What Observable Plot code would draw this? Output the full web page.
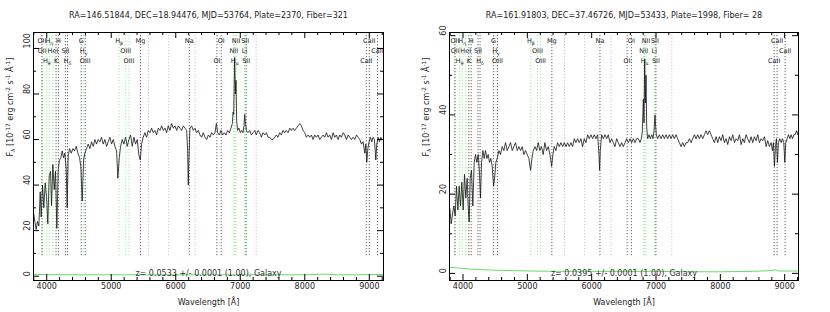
<!DOCTYPE html>
<html><head><meta charset="utf-8">
<script src="https://cdn.jsdelivr.net/npm/d3@7"></script>
<script src="https://cdn.jsdelivr.net/npm/@observablehq/plot@0.6"></script>
<style>
body{margin:0;background:#fff}
#wrap{position:relative;width:830px;height:312px;overflow:hidden}
.panel{position:absolute;top:0}
</style>
</head><body><div id="wrap"></div>
<script>
// ---------- data ----------
const titles = [
  "RA=146.51844, DEC=18.94476, MJD=53764, Plate=2370, Fiber=321",
  "RA=161.91803, DEC=37.46726, MJD=53433, Plate=1998, Fiber= 28"
];
const zLabels = [
  "z= 0.0533 +/- 0.0001 (1.00), Galaxy",
  "z= 0.0395 +/- 0.0001 (1.00), Galaxy"
];
const redshifts = [0.0533, 0.0395];
const xLabel = "Wavelength [Å]";
const yLabel = "F_{λ} [10^{-17} erg cm^{-2} s^{-1} Å^{-1}]";
const xTicks = [4000, 5000, 6000, 7000, 8000, 9000];
const leftYTicks = [0, 20, 40, 60, 80, 100];
const rightYTicks = [0, 20, 40, 60];

const leftWave = [
3795,3816,3836,3857,3878,3899,3914,3935,3955,3976,
3997,4017,4038,4059,4074,4095,4116,4136,4157,4178,
4198,4219,4240,4260,4281,4302,4317,4333,4354,4380,
4405,4431,4457,4483,4509,4529,4550,4571,4591,4617,
4643,4669,4695,4721,4747,4772,4798,4824,4850,4876,
4902,4928,4953,4979,5005,5031,5057,5083,5103,5124,
5145,5171,5196,5222,5248,5274,5300,5326,5352,5377,
5403,5429,5450,5470,5496,5522,5548,5574,5600,5626,
5651,5677,5703,5729,5755,5781,5807,5833,5858,5884,
5910,5936,5962,5988,6014,6039,6065,6091,6117,6143,
6169,6184,6194,6205,6220,6246,6272,6298,6324,6350,
6375,6401,6427,6453,6479,6505,6531,6556,6582,6608,
6629,6650,6675,6701,6727,6753,6779,6805,6831,6856,
6877,6888,6898,6913,6924,6934,6944,6960,6980,7001,
7022,7042,7058,7068,7079,7094,7120,7146,7172,7198,
7224,7249,7275,7301,7327,7353,7379,7405,7430,7456,
7482,7508,7534,7560,7585,7611,7637,7663,7689,7715,
7741,7767,7792,7818,7844,7870,7896,7922,7948,7973,
7999,8025,8051,8077,8103,8128,8154,8180,8206,8232,
8258,8284,8309,8335,8361,8387,8413,8439,8465,8490,
8516,8542,8568,8594,8620,8646,8672,8697,8723,8749,
8775,8801,8827,8852,8878,8904,8930,8946,8961,8977,
8997,9018,9039,9059,9080,9101,9116,9137,9158,9178,
9199,9214];
const leftFlux = [
28,24,20.5,24,22,37,26,40,30,41,
35,23,44,46,31,49,38,46,21,47,
51,52,55,52,54,47,30,53,56,54,
56,55,57,54,52,48,33,51,54,56,
58,56,59,57,60,58,60,59,61,58,
60,57,59,61,58,60,57,55,43,52,
57,60,58,61,57,60,62,57,61,58,
60,53,51,58,61,63,61,64,63,65,
63,64,62,65,64,66,64,65,63,66,
64,67,65,66,64,66,65,64,66,65,
64,55,40,52,65,66,64,65,63,64,
62,61,63,61,60,62,61,63,62,63,
67,63,62,64,62,63,62,64,63,65,
67,72,71,96,80,86,68,64,65,63,
64,63,66,71,68,64,63,64,62,63,
64,62,64,63,61,63,62,63,61,61,
60,60,61,62,61,63,62,64,63,64,
63,65,64,65,64,65,66,67,66,64,
63,61,62,61,62,60,62,61,62,60,
61,62,61,63,61,62,60,63,61,62,
60,62,61,63,62,60,62,61,60,61,
60,62,61,60,58,59,54,58,50,56,
59,61,59,61,60,51,58,61,59,61,
60,60];
const leftErrWave = [3795,4000,4500,5000,5500,6000,6500,7000,7500,8000,8300,8500,8800,9000,9214];
const leftErr     = [0.8,0.7,0.6,0.6,0.6,0.6,0.6,0.6,0.6,0.6,0.9,0.6,0.6,0.7,0.7];

const rightWave = [
3795,3816,3837,3857,3878,3899,3920,3940,3961,3982,
4003,4023,4044,4065,4080,4096,4112,4132,4153,4174,
4194,4215,4236,4257,4272,4288,4309,4329,4350,4371,
4392,4412,4433,4454,4475,4490,4511,4532,4558,4583,
4609,4635,4661,4687,4713,4739,4765,4791,4817,4843,
4869,4895,4920,4946,4972,4998,5024,5050,5071,5092,
5118,5144,5169,5195,5221,5247,5273,5299,5325,5351,
5377,5398,5418,5444,5470,5496,5522,5548,5574,5600,
5626,5652,5678,5704,5730,5755,5781,5807,5833,5859,
5885,5911,5937,5963,5989,6015,6041,6067,6093,6113,
6124,6134,6155,6181,6207,6233,6258,6284,6310,6336,
6362,6388,6414,6440,6466,6492,6518,6544,6570,6596,
6622,6648,6673,6699,6725,6751,6772,6788,6803,6814,
6824,6834,6845,6855,6870,6891,6912,6933,6953,6969,
6985,6995,7005,7026,7052,7078,7104,7130,7156,7182,
7208,7234,7259,7285,7311,7337,7363,7389,7415,7441,
7467,7493,7519,7545,7570,7597,7622,7648,7674,7700,
7726,7752,7778,7804,7830,7856,7882,7908,7934,7960,
7985,8011,8037,8063,8089,8115,8141,8167,8193,8219,
8245,8271,8297,8323,8349,8374,8400,8426,8452,8478,
8504,8530,8556,8582,8608,8634,8659,8686,8712,8737,
8763,8789,8810,8825,8841,8857,8872,8888,8903,8924,
8945,8966,8986,9002,9017,9038,9059,9080,9100,9121,
9142,9163,9183,9204,9214];
const rightFlux = [
16.5,12.5,15,17,14.5,22,16,22,17,23,
16,25,19,24,17,13,24,26,17,28,
30,28,30,25,19,28,31,29,31,29,
30,28,29,27,22,24,28,29,31,30,
32,31,33,31,32,33,31,32,33,31,
32,31,32,30,31,30,29,26,29,31,
32,31,33,31,32,30,33,31,32,30,
27,30,32,31,33,32,33,32,33,32,
33,32,33,32,34,33,34,33,34,32,
34,33,35,34,35,34,35,34,35,30,
26,31,35,34,35,34,35,33,34,33,
32,34,33,32,33,32,33,34,33,34,
33,34,33,34,34,33,34,36,44,38,
54,43,50,37,34,35,34,35,34,36,
40,37,35,34,35,34,35,34,35,34,
35,34,35,34,35,34,33,32,33,32,
33,33,34,33,34,35,34,35,34,35,
34,35,36,35,36,35,34,33,34.5,33,
34.5,33.5,35,33,34,32.5,34.5,33.5,35,33,
34,33.5,35,32.5,34,33,35,34,33,34.5,
33,34.5,33.5,35,33,34,33.5,34.5,32,33.5,
32,33,31,33,27,32,34,28,33,34,
33,34,33,28,33,34,35,34,35,34,
35,35,36,35,36];
const rightErrWave = [3795,3900,4000,4200,4500,5000,5500,6000,6500,7000,7500,8000,8500,8800,8850,8900,9000,9214];
const rightErr     = [1.5,1.4,1.2,1.0,0.8,0.6,0.5,0.5,0.5,0.5,0.4,0.4,0.5,0.7,0.9,0.6,0.6,0.6];

// spectral line list: rest wavelength, label, label row, kind (e = green, a = black)
const lineNames = ["OII","H_{η}","H","G","H_{β}","Mg","Na","OI","NII","SII","CaII",
                   "OII","HeI","SII","H_{γ}","OIII","NII","Li","CaII",
                   "H_{θ}","K","H_{δ}","OIII","OIII","OI","H_{α}","SII","CaII"];
const lineRest  = [3727.1,3836.5,3969.6,4305.6,4862.7,5176.7,5895.6,6365.5,6585.3,6718.3,8544.4,
                   3729.9,3889.0,4072.3,4341.7,4960.3,6549.9,6707.9,8664.5,
                   3798.0,3934.8,4102.9,4364.4,5008.2,6302.0,6564.6,6732.7,8500.4];
const lineRow   = [1,1,1,1,1,1,1,1,1,1,1, 2,2,2,2,2,2,2,2, 3,3,3,3,3,3,3,3,3];
const lineKind  = ["a","e","a","a","e","a","a","a","e","e","a",
                   "e","e","a","e","e","e","e","a",
                   "e","a","a","a","e","a","e","a","a"];
const skyLines = [5577, 5890, 6300, 7246];

// ---------- drawing ----------
const FONT = "DejaVu Sans";
const GREEN = "#8fe28f", GREEN_ERR = "#66dd66", PINK = "#d9a6d9", DOTBLACK = "#444";

function panel({wave, flux, errWave, err, z, xDomain, yDomain, yTicks, title, zLabel, marginLeft}) {
  const W = 415, H = 312, mt = 32, mb = 32, mr = 32;
  const fw = W - marginLeft - mr, fh = H - mt - mb;
  const spec = wave.map((w, i) => ({w, f: flux[i]}));
  const errs = errWave.map((w, i) => ({w, f: err[i]}));
  const lines = lineNames.map((n, i) => ({name: n, obs: lineRest[i] * (1 + z), row: lineRow[i], kind: lineKind[i]}));
  const [ya, yb] = yDomain;
  const yl = ya + 0.1 * (yb - ya);
  const xMinor = d3.range(3800, 9300, 200).filter(v => v % 1000 !== 0 && v > xDomain[0] && v < xDomain[1]);
  const yMinor = d3.range(10, yb, 20);
  const dot = {strokeDasharray: "1,2", strokeWidth: 1};
  const rowText = r => Plot.text(lines.filter(d => d.row === r), {x: "obs", text: "name", frameAnchor: "top", dy: 6 + 10 * (r - 1), fill: "#222", fontSize: 6.5});
  return Plot.plot({
    width: W, height: H, marginLeft, marginRight: mr, marginTop: mt, marginBottom: mb,
    x: {domain: xDomain, axis: null},
    y: {domain: yDomain, axis: null},
    style: {fontFamily: FONT, fontSize: "8px", background: "white", color: "#000", overflow: "visible"},
    marks: [
      Plot.ruleX(skyLines, {x: d => d, y1: yl, y2: yb, stroke: PINK, ...dot}),
      Plot.ruleX(lines.filter(d => d.kind === "e"), {x: "obs", y1: yl, y2: yb, stroke: GREEN, ...dot}),
      Plot.ruleX(lines.filter(d => d.kind === "a"), {x: "obs", y1: yl, y2: yb, stroke: DOTBLACK, ...dot}),
      Plot.line(errs, {x: "w", y: "f", stroke: GREEN_ERR, strokeWidth: 1}),
      Plot.line(spec, {x: "w", y: "f", stroke: "#111", strokeWidth: 0.8}),
      rowText(1), rowText(2), rowText(3),
      Plot.text([zLabel], {text: d => d, frameAnchor: "bottom", dy: -5, fill: "#333"}),
      Plot.frame({stroke: "#000", strokeWidth: 1}),
      // ticks (inward, all four sides)
      Plot.tickX(xTicks, {x: d => d, insetTop: fh - 6, stroke: "#000"}),
      Plot.tickX(xTicks, {x: d => d, insetBottom: fh - 6, stroke: "#000"}),
      Plot.tickX(xMinor, {x: d => d, insetTop: fh - 3, stroke: "#000"}),
      Plot.tickX(xMinor, {x: d => d, insetBottom: fh - 3, stroke: "#000"}),
      Plot.tickY(yTicks, {y: d => d, insetRight: fw - 6, stroke: "#000"}),
      Plot.tickY(yTicks, {y: d => d, insetLeft: fw - 6, stroke: "#000"}),
      Plot.tickY(yMinor, {y: d => d, insetRight: fw - 3, stroke: "#000"}),
      Plot.tickY(yMinor, {y: d => d, insetLeft: fw - 3, stroke: "#000"}),
      // tick labels
      Plot.text(xTicks, {x: d => d, text: d => String(d), frameAnchor: "bottom", dy: 8, fill: "#222"}),
      Plot.text(yTicks, {y: d => d, text: d => String(d), frameAnchor: "left", dx: -6, rotate: -90, fill: "#222"}),
      // titles
      Plot.text([title], {text: d => d, frameAnchor: "top", dy: -20, fill: "#222"}),
      Plot.text([xLabel], {text: d => d, frameAnchor: "bottom", dy: 24, fill: "#222"}),
      Plot.text([yLabel], {text: d => d, frameAnchor: "left", dx: -23, rotate: -90, fill: "#222"})
    ]
  });
}

function richify(svg) {
  const NS = "http://www.w3.org/2000/svg";
  svg.querySelectorAll("text").forEach(t => {
    const s = t.textContent;
    if (!/[_^]\{/.test(s)) return;
    while (t.firstChild) t.removeChild(t.firstChild);
    const re = /([_^])\{([^}]*)\}/g;
    let last = 0, cur = 0, m;
    const add = (txt, target, small) => {
      const ts = document.createElementNS(NS, "tspan");
      ts.textContent = txt;
      const dy = target - cur;
      if (dy) ts.setAttribute("dy", dy);
      if (small) ts.setAttribute("font-size", small);
      cur = target;
      t.appendChild(ts);
    };
    while ((m = re.exec(s))) {
      if (m.index > last) add(s.slice(last, m.index), 0, null);
      add(m[2], m[1] === "_" ? 2 : -3, "0.72em");
      last = re.lastIndex;
    }
    if (last < s.length) add(s.slice(last), 0, null);
  });
}

const wrap = document.getElementById("wrap");
const cfgs = [
  {wave: leftWave, flux: leftFlux, errWave: leftErrWave, err: leftErr, z: redshifts[0],
   xDomain: [3795, 9220], yDomain: [-1.9, 107], yTicks: leftYTicks, title: titles[0], zLabel: zLabels[0], marginLeft: 33},
  {wave: rightWave, flux: rightFlux, errWave: rightErrWave, err: rightErr, z: redshifts[1],
   xDomain: [3790, 9215], yDomain: [-1.8, 60.8], yTicks: rightYTicks, title: titles[1], zLabel: zLabels[1], marginLeft: 34}
];
cfgs.forEach((c, i) => {
  const svg = panel(c);
  richify(svg);
  const div = document.createElement("div");
  div.className = "panel";
  div.style.left = (i * 415) + "px";
  div.appendChild(svg);
  wrap.appendChild(div);
});
</script>
</body></html>
